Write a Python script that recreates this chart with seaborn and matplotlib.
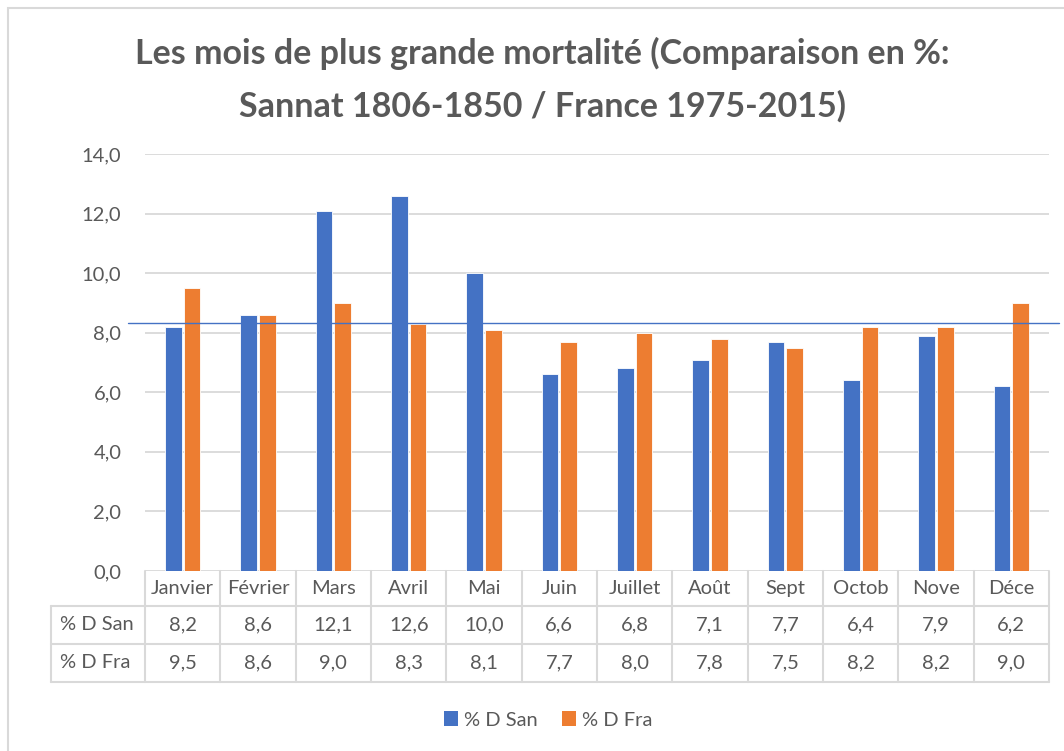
import numpy as np
import pandas as pd
import matplotlib.pyplot as plt
import seaborn as sns
from matplotlib.ticker import FuncFormatter
from matplotlib.patches import Rectangle, Patch

mois = ['Janvier', 'Février', 'Mars', 'Avril', 'Mai', 'Juin',
        'Juillet', 'Août', 'Sept', 'Octob', 'Nove', 'Déce']
d_san = [8.2, 8.6, 12.1, 12.6, 10.0, 6.6, 6.8, 7.1, 7.7, 6.4, 7.9, 6.2]
d_fra = [9.5, 8.6, 9.0, 8.3, 8.1, 7.7, 8.0, 7.8, 7.5, 8.2, 8.2, 9.0]
series = ['% D San', '% D Fra']
moyenne = 8.33  # ligne horizontale (100 / 12)
y_ticks = [0, 2, 4, 6, 8, 10, 12, 14]

titre = "Les mois de plus grande mortalité (Comparaison en %:\nSannat 1806-1850 / France 1975-2015)"

colors = ['#4472C4', '#ED7D31']
txt = '#595959'
grid = '#D9D9D9'

df = pd.DataFrame({
    'Mois': mois * 2,
    'Serie': [series[0]] * len(mois) + [series[1]] * len(mois),
    'Valeur': d_san + d_fra,
})

sns.set_theme(style='white')
plt.rcParams['font.family'] = ['Lato', 'DejaVu Sans']

fig = plt.figure(figsize=(10.64, 7.51), dpi=100)
ax = fig.add_axes([0.1363, 0.2397, 0.8496, 0.5552])

sns.barplot(data=df, x='Mois', y='Valeur', hue='Serie', palette=colors,
            saturation=1, width=0.5, gap=0.12, legend=False, ax=ax,
            edgecolor='white', linewidth=0.6)

fs = 14.5
ax.set_ylim(0, 14)
ax.set_xlim(-0.5, len(mois) - 0.5)
ax.set_yticks(y_ticks)
ax.yaxis.set_major_formatter(FuncFormatter(lambda v, p: f"{v:.1f}".replace('.', ',')))
ax.tick_params(axis='y', length=0, pad=17, labelsize=fs, labelcolor=txt)
ax.set_xticks([])
ax.set_xlabel('')
ax.set_ylabel('')
for s in ax.spines.values():
    s.set_visible(False)
for t in y_ticks:
    ax.axhline(t, color=grid, lw=1.3, zorder=0)

# average line
ax.axhline(moyenne, xmin=-0.0188, xmax=1.011, color='#4472C4', lw=1.0,
           clip_on=False, zorder=5)

# data table under the plot
xt = ax.get_xaxis_transform()
rows = [0, -0.0839, -0.175, -0.266]
lab_x = -0.104
for yb in rows[1:]:
    ax.plot([lab_x, 1], [yb, yb], transform=ax.transAxes, color=grid,
            lw=1.5, clip_on=False)
ax.plot([lab_x, lab_x], [rows[1], rows[3]], transform=ax.transAxes,
        color=grid, lw=1.5, clip_on=False)
for i in range(len(mois) + 1):
    ax.plot([i - 0.5, i - 0.5], [rows[0], rows[3]], transform=xt,
            color=grid, lw=1.5, clip_on=False)

centers = [(rows[k] + rows[k + 1]) / 2 for k in range(3)]
for i, m in enumerate(mois):
    ax.text(i, centers[0], m, transform=xt, ha='center', va='center',
            fontsize=fs, color=txt)
    ax.text(i, centers[1], f"{d_san[i]:.1f}".replace('.', ','), transform=xt,
            ha='center', va='center', fontsize=fs, color=txt)
    ax.text(i, centers[2], f"{d_fra[i]:.1f}".replace('.', ','), transform=xt,
            ha='center', va='center', fontsize=fs, color=txt)
for k, s in enumerate(series):
    ax.text(lab_x + 0.01, centers[k + 1], s, transform=ax.transAxes,
            ha='left', va='center', fontsize=fs, color=txt)

# title
fig.text(0.510, 1 - 80 / 751, titre, ha='center', va='center', fontsize=24.5,
         fontweight='bold', color=txt, linespacing=1.75)

# legend
handles = [Patch(facecolor=c, edgecolor='none', label=s) for c, s in zip(colors, series)]
leg = fig.legend(handles=handles, loc='center', bbox_to_anchor=(548 / 1064, 1 - 720 / 751),
                 ncol=2, frameon=False, fontsize=fs, handlelength=0.7,
                 handleheight=0.7, handletextpad=0.3, columnspacing=1.2)
for t in leg.get_texts():
    t.set_color(txt)

# outer chart border
fig.patches.append(Rectangle((8 / 1064, -0.1), 1.2, 1.1 - 8 / 751,
                             transform=fig.transFigure, fill=False,
                             edgecolor=grid, lw=1.5))

fig.savefig('out.png', dpi=100)
